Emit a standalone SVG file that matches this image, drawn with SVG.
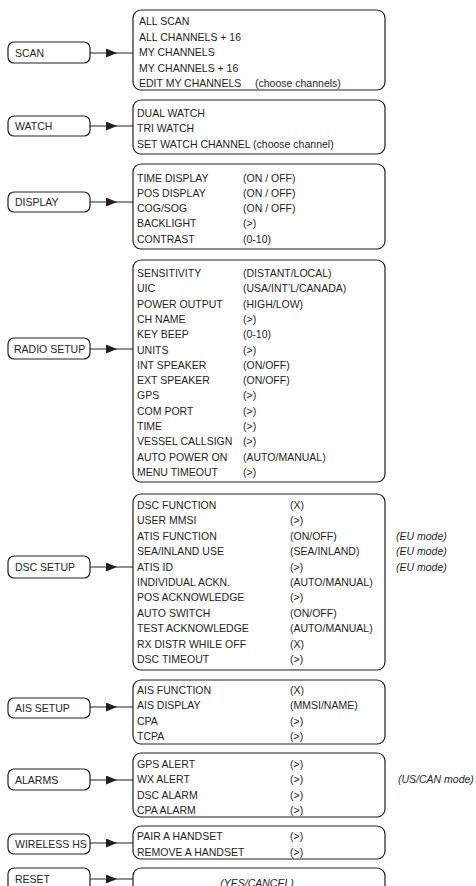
<svg xmlns="http://www.w3.org/2000/svg" width="476" height="886" viewBox="0 0 476 886">
<style>
text{font-family:"Liberation Sans",Arial,sans-serif;font-size:10.5px;fill:#231f20}
.it{font-style:italic}
.box{fill:#fff;stroke:#231f20;stroke-width:1.2}
.con{fill:none;stroke:#231f20;stroke-width:1.2}
</style>
<defs>
<marker id="arr" markerUnits="userSpaceOnUse" markerWidth="12" markerHeight="10" refX="11" refY="4.5" orient="auto">
<path d="M0,0 L11,4.5 L0,9 Z" fill="#231f20"/>
</marker>
</defs>
<rect width="476" height="886" fill="#fff"/>
<g id="connectors">
<polyline class="con" points="90,53 117,53 133,53" marker-mid="url(#arr)"/>
<polyline class="con" points="90,126 117,126 133,126" marker-mid="url(#arr)"/>
<polyline class="con" points="90,202 117,202 133,202" marker-mid="url(#arr)"/>
<polyline class="con" points="90,349 117,349 133,349" marker-mid="url(#arr)"/>
<polyline class="con" points="90,567 117,567 133,567" marker-mid="url(#arr)"/>
<polyline class="con" points="90,707 117,707 133,707" marker-mid="url(#arr)"/>
<polyline class="con" points="90,780 117,780 133,780" marker-mid="url(#arr)"/>
<polyline class="con" points="90,843 117,843 133,843" marker-mid="url(#arr)"/>
<polyline class="con" points="90,879 117,879 133,879" marker-mid="url(#arr)"/>
</g>
<g id="scan">
<rect class="box" x="8" y="42" width="82" height="21" rx="6"/>
<text x="15" y="57">SCAN</text>
</g>
<g id="scan-menu">
<rect class="box" x="133" y="10" width="252" height="80" rx="8"/>
<text x="139" y="25">ALL SCAN</text>
<text x="139" y="40.5">ALL CHANNELS + 16</text>
<text x="139" y="56">MY CHANNELS</text>
<text x="139" y="71.5">MY CHANNELS + 16</text>
<text x="139" y="87">EDIT MY CHANNELS</text>
<text x="255" y="87">(choose channels)</text>
</g>
<g id="watch">
<rect class="box" x="8" y="116" width="82" height="20" rx="6"/>
<text x="15" y="130">WATCH</text>
</g>
<g id="watch-menu">
<rect class="box" x="133" y="100" width="252" height="54" rx="8"/>
<text x="137" y="116.5">DUAL WATCH</text>
<text x="137" y="132">TRI WATCH</text>
<text x="137" y="147.5">SET WATCH CHANNEL (choose channel)</text>
</g>
<g id="display">
<rect class="box" x="8" y="192" width="82" height="20" rx="6"/>
<text x="15" y="206">DISPLAY</text>
</g>
<g id="display-menu">
<rect class="box" x="133" y="164" width="252" height="85" rx="8"/>
<text x="137" y="182">TIME DISPLAY</text><text x="243" y="182">(ON / OFF)</text>
<text x="137" y="197">POS DISPLAY</text><text x="243" y="197">(ON / OFF)</text>
<text x="137" y="212">COG/SOG</text><text x="243" y="212">(ON / OFF)</text>
<text x="137" y="227">BACKLIGHT</text><text x="243" y="227">(&gt;)</text>
<text x="137" y="242.5">CONTRAST</text><text x="243" y="242.5">(0-10)</text>
</g>
<g id="radio-setup">
<rect class="box" x="8" y="338" width="82" height="21" rx="6"/>
<text x="14" y="353">RADIO SETUP</text>
</g>
<g id="radio-menu">
<rect class="box" x="133" y="260" width="252" height="222" rx="8"/>
<text x="137" y="277">SENSITIVITY</text><text x="243" y="277">(DISTANT/LOCAL)</text>
<text x="137" y="292.3">UIC</text><text x="243" y="292.3">(USA/INT’L/CANADA)</text>
<text x="137" y="307.6">POWER OUTPUT</text><text x="243" y="307.6">(HIGH/LOW)</text>
<text x="137" y="322.9">CH NAME</text><text x="243" y="322.9">(&gt;)</text>
<text x="137" y="338.2">KEY BEEP</text><text x="243" y="338.2">(0-10)</text>
<text x="137" y="353.5">UNITS</text><text x="243" y="353.5">(&gt;)</text>
<text x="137" y="368.8">INT SPEAKER</text><text x="243" y="368.8">(ON/OFF)</text>
<text x="137" y="384.1">EXT SPEAKER</text><text x="243" y="384.1">(ON/OFF)</text>
<text x="137" y="399.4">GPS</text><text x="243" y="399.4">(&gt;)</text>
<text x="137" y="414.7">COM PORT</text><text x="243" y="414.7">(&gt;)</text>
<text x="137" y="430">TIME</text><text x="243" y="430">(&gt;)</text>
<text x="137" y="445.3">VESSEL CALLSIGN</text><text x="243" y="445.3">(&gt;)</text>
<text x="137" y="460.6">AUTO POWER ON</text><text x="243" y="460.6">(AUTO/MANUAL)</text>
<text x="137" y="476">MENU TIMEOUT</text><text x="243" y="476">(&gt;)</text>
</g>
<g id="dsc-setup">
<rect class="box" x="8" y="556" width="82" height="22" rx="6"/>
<text x="15" y="571">DSC SETUP</text>
</g>
<g id="dsc-menu">
<rect class="box" x="133" y="494" width="252" height="176" rx="8"/>
<text x="137" y="509">DSC FUNCTION</text><text x="290" y="509">(X)</text>
<text x="137" y="524.4">USER MMSI</text><text x="290" y="524.4">(&gt;)</text>
<text x="137" y="539.8">ATIS FUNCTION</text><text x="290" y="539.8">(ON/OFF)</text>
<text x="137" y="555.2">SEA/INLAND USE</text><text x="290" y="555.2">(SEA/INLAND)</text>
<text x="137" y="570.6">ATIS ID</text><text x="290" y="570.6">(&gt;)</text>
<text x="137" y="586">INDIVIDUAL ACKN.</text><text x="290" y="586">(AUTO/MANUAL)</text>
<text x="137" y="601.4">POS ACKNOWLEDGE</text><text x="290" y="601.4">(&gt;)</text>
<text x="137" y="616.8">AUTO SWITCH</text><text x="290" y="616.8">(ON/OFF)</text>
<text x="137" y="632.2">TEST ACKNOWLEDGE</text><text x="290" y="632.2">(AUTO/MANUAL)</text>
<text x="137" y="647.6">RX DISTR WHILE OFF</text><text x="290" y="647.6">(X)</text>
<text x="137" y="663">DSC TIMEOUT</text><text x="290" y="663">(&gt;)</text>
</g>
<g id="eu-notes">
<text class="it" x="396" y="539.8">(EU mode)</text>
<text class="it" x="396" y="555.2">(EU mode)</text>
<text class="it" x="396" y="570.6">(EU mode)</text>
</g>
<g id="ais-setup">
<rect class="box" x="8" y="698" width="82" height="20" rx="6"/>
<text x="15" y="712">AIS SETUP</text>
</g>
<g id="ais-menu">
<rect class="box" x="133" y="680" width="252" height="64" rx="8"/>
<text x="137" y="694">AIS FUNCTION</text><text x="290" y="694">(X)</text>
<text x="137" y="709.3">AIS DISPLAY</text><text x="290" y="709.3">(MMSI/NAME)</text>
<text x="137" y="724.6">CPA</text><text x="290" y="724.6">(&gt;)</text>
<text x="137" y="740">TCPA</text><text x="290" y="740">(&gt;)</text>
</g>
<g id="alarms">
<rect class="box" x="8" y="769" width="82" height="21" rx="6"/>
<text x="15" y="784">ALARMS</text>
</g>
<g id="alarms-menu">
<rect class="box" x="133" y="753" width="252" height="64" rx="8"/>
<text x="137" y="767.7">GPS ALERT</text><text x="290" y="767.7">(&gt;)</text>
<text x="137" y="783.1">WX ALERT</text><text x="290" y="783.1">(&gt;)</text>
<text x="137" y="798.5">DSC ALARM</text><text x="290" y="798.5">(&gt;)</text>
<text x="137" y="814">CPA ALARM</text><text x="290" y="814">(&gt;)</text>
<text class="it" x="398" y="783.1">(US/CAN mode)</text>
</g>
<g id="wireless-hs">
<rect class="box" x="8" y="834" width="82" height="20" rx="6"/>
<text x="15" y="848">WIRELESS HS</text>
</g>
<g id="wireless-menu">
<rect class="box" x="133" y="826" width="252" height="33" rx="8"/>
<text x="137" y="840">PAIR A HANDSET</text><text x="290" y="840">(&gt;)</text>
<text x="137" y="855.7">REMOVE A HANDSET</text><text x="290" y="855.7">(&gt;)</text>
</g>
<g id="reset">
<rect class="box" x="8" y="868" width="82" height="30" rx="6"/>
<text x="15" y="883">RESET</text>
</g>
<g id="reset-menu">
<rect class="box" x="133" y="868" width="252" height="40" rx="8"/>
<text class="it" x="257" y="887" text-anchor="middle">(YES/CANCEL)</text>
</g>
</svg>
